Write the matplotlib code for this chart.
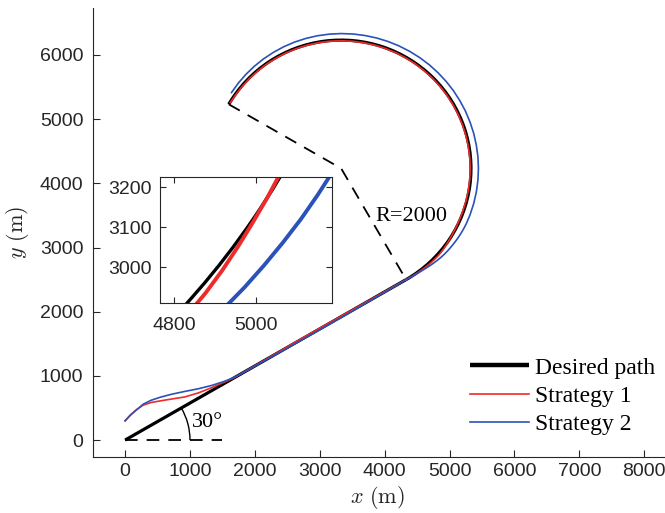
import numpy as np
import matplotlib
matplotlib.use("Agg")
import matplotlib.pyplot as plt
from matplotlib.patches import Arc

plt.rcParams["mathtext.fontset"] = "cm"

# desired path: straight leg at 30 deg, then a left turn with R=2000
path_x = [0, 4330]
path_y = [0, 2500]
turn_center = (3330, 4232)
turn_radius = 2000
turn_start, turn_end = -60, 150

# dashed construction lines
guide_x = [1598, 3330, 4330]
guide_y = [5232, 4232, 2500]
ref_x = [0, 1500]
ref_y = [0, 0]
angle_radius = 1000
angle_deg = 30

# strategy 1 - approach and straight leg
s1_x = [0, 80, 170, 280, 400, 550, 720, 920, 1130, 1330, 1500, 1650, 1800,
        2200, 2600, 3000, 3400, 3800, 4200]
s1_y = [300, 390, 470, 545, 585, 612, 640, 672, 735, 815, 890, 955, 1040,
        1275, 1513, 1744, 1972, 2198, 2427]
# strategy 1 on the turn: angle around turn centre (deg), radius (m)
s1_ang = [-60, -57, -54, -51, -48, -46, -44, -42, -40, -38, -36, -34, -32, -30, -28, -26, -24,
          -20, -15, -10, -5, 0, 5, 10, 15, 20, 25, 30, 35, 40, 45, 50, 55, 60, 65, 70,
          75, 80, 85, 90, 95, 100, 105, 110, 115, 120, 125, 130, 135, 140, 145, 149]
s1_rad = [2000, 2003, 2007, 2011, 2015, 2017, 2019, 2020, 2018, 2014, 2009, 2004, 2000,
          1996, 1993, 1991, 1990,
          1989, 1989, 1989, 1989, 1989, 1989, 1989, 1989, 1989, 1989, 1989, 1990, 1990,
          1990, 1990, 1990, 1990, 1990, 1990, 1990, 1990, 1990, 1990, 1991, 1991, 1991,
          1991, 1991, 1991, 1991, 1991, 1991, 1991, 1991, 1993]

# strategy 2 - approach and straight leg
s2_x = [0, 80, 170, 280, 400, 550, 720, 920, 1130, 1330, 1500, 1650, 1800,
        2200, 2600, 3000, 3400, 3800, 4200]
s2_y = [300, 385, 465, 560, 620, 670, 715, 758, 800, 850, 905, 960, 1040,
        1265, 1490, 1718, 1950, 2185, 2420]
s2_ang = [-60, -57, -54, -51, -48, -46, -44, -42, -40, -38, -36, -34, -32, -30, -28, -26, -24,
          -20, -15, -10, -5, 0, 5, 10, 15, 20, 25, 30, 35, 40, 45, 50, 55, 60, 65, 70,
          75, 80, 85, 90, 95, 100, 105, 110, 115, 120, 125, 130, 135, 140, 145]
s2_rad = [2000, 2006, 2014, 2025, 2040, 2050, 2060, 2069, 2077, 2083, 2088, 2093, 2098,
          2102, 2106, 2109, 2111,
          2113, 2114, 2115, 2115, 2115, 2115, 2114, 2114, 2113, 2113, 2112, 2112, 2111,
          2110, 2110, 2109, 2108, 2107, 2106, 2105, 2104, 2103, 2102, 2101, 2100, 2098,
          2096, 2093, 2089, 2085, 2080, 2075, 2069, 2063]

C_RED = "#ee2a2a"
C_BLUE = "#2a52b8"
GREY = "#262626"


def on_turn(ang, rad):
    a = np.radians(ang)
    r = np.asarray(rad, dtype=float)
    return turn_center[0] + r * np.cos(a), turn_center[1] + r * np.sin(a)


def full_track(x, y, ang, rad):
    tx, ty = on_turn(ang, rad)
    return np.concatenate([x, tx]), np.concatenate([y, ty])


def draw_paths(ax, lw_path, lw_track):
    line, = ax.plot(path_x, path_y, color="black", lw=lw_path, solid_capstyle="butt",
                    label="Desired path")
    ax.add_patch(Arc(turn_center, 2 * turn_radius, 2 * turn_radius, theta1=turn_start,
                     theta2=turn_end, color="black", lw=lw_path))
    x1, y1 = full_track(s1_x, s1_y, s1_ang, s1_rad)
    x2, y2 = full_track(s2_x, s2_y, s2_ang, s2_rad)
    l1, = ax.plot(x1, y1, color=C_RED, lw=lw_track, label="Strategy 1")
    l2, = ax.plot(x2, y2, color=C_BLUE, lw=lw_track, label="Strategy 2")
    return line, l1, l2


fig = plt.figure(figsize=(6.65, 5.13), dpi=100)
ax = fig.add_axes([0.140, 0.109, 0.860, 0.875])

ax.plot(ref_x, ref_y, color="black", lw=1.3, linestyle=(0, (7, 5)))
ax.plot(guide_x, guide_y, color="black", lw=1.3, linestyle=(0, (7, 5)))
ax.add_patch(Arc((0, 0), 2 * angle_radius, 2 * angle_radius, theta1=0, theta2=angle_deg,
                 color="black", lw=1.0))
handles = draw_paths(ax, 2.3, 1.2)

ax.text(1030, 270, "30°", family="Liberation Serif", fontsize=16, va="center", ha="left")
ax.text(3850, 3480, "R=2000", family="Liberation Serif", fontsize=16, va="center", ha="left")

ax.set_xlim(-493, 8320)
ax.set_ylim(-265, 6729)
ax.set_xticks(np.arange(0, 8001, 1000))
ax.set_yticks(np.arange(0, 6001, 1000))
for side in ("top", "right"):
    ax.spines[side].set_visible(False)
for side in ("left", "bottom"):
    ax.spines[side].set_color(GREY)
ax.tick_params(axis="both", direction="in", length=5, color=GREY, labelcolor=GREY,
               labelsize=14)
ax.tick_params(axis="x", pad=4)
ax.tick_params(axis="y", pad=7)
for lab in ax.get_xticklabels() + ax.get_yticklabels():
    lab.set_family("Liberation Sans")

ax.set_xlabel(r"$x\ (\mathrm{m})$", fontsize=16, color=GREY)
ax.set_ylabel(r"$y\ (\mathrm{m})$", fontsize=16, color=GREY)
ax.xaxis.set_label_coords(0.497, -0.060)
ax.xaxis.label.set_va("top")
ax.yaxis.set_label_coords(-0.108, 0.5)

leg = ax.legend(handles=handles, loc="center left", bbox_to_anchor=(0.707, 0.228),
                bbox_transform=fig.transFigure, frameon=False, handlelength=2.5,
                handletextpad=0.25, labelspacing=0.28, borderpad=0, borderaxespad=0,
                prop={"family": "Liberation Serif", "size": 17})
leg.get_lines()[0].set_linewidth(3.2)

# zoomed inset around the start of the turn
axi = fig.add_axes([0.2406, 0.409, 0.2586, 0.2456])
draw_paths(axi, 2.4, 2.8)
axi.set_xlim(4765, 5185)
axi.set_ylim(2910, 3225)
axi.set_xticks([4800, 5000])
axi.set_yticks([3000, 3100, 3200])
for s in axi.spines.values():
    s.set_color(GREY)
axi.tick_params(axis="both", direction="in", length=4, color=GREY, labelcolor=GREY,
                labelsize=14, top=True, right=True)
axi.tick_params(axis="x", pad=10)
axi.tick_params(axis="y", pad=6)
for lab in axi.get_xticklabels() + axi.get_yticklabels():
    lab.set_family("Liberation Sans")

fig.savefig("out.png", dpi=100)
